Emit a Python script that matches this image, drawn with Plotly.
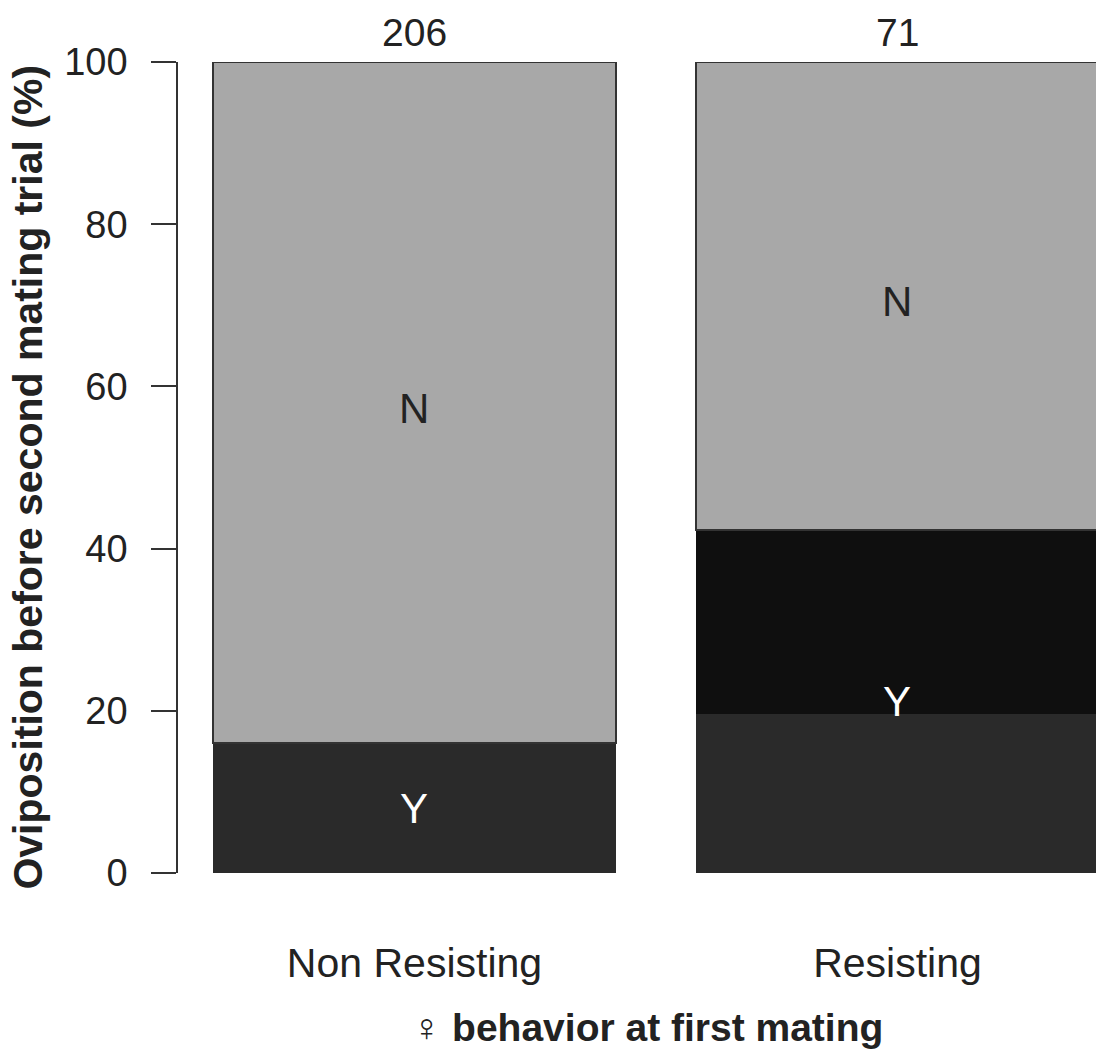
import plotly.graph_objects as go

categories = ["Non Resisting", "Resisting"]
totals = ["206", "71"]
y_lower = [16.0, 19.6]      # Y (oviposition) lower shade
y_upper = [0.0, 22.7]       # Y darker shade (Resisting)
n_vals = [84.0, 57.7]       # N
y_ticks = [0, 20, 40, 60, 80, 100]

FONT = "Liberation Sans, Arial, sans-serif"
TXT = "#222222"
xpos = [0, 1]

fig = go.Figure()
fig.add_trace(go.Bar(x=xpos, y=y_lower, name="Y", marker=dict(color="#2a2a2a", line=dict(width=0)),
                     width=0.834, hoverinfo="skip"))
fig.add_trace(go.Bar(x=xpos, y=y_upper, name="Y2", marker=dict(color="#0f0f0f", line=dict(width=0)),
                     width=0.834, hoverinfo="skip"))
fig.add_trace(go.Bar(x=xpos, y=n_vals, name="N", marker=dict(color="#a8a8a8", line=dict(width=1.5, color="#333333")),
                     width=0.834, hoverinfo="skip"))

ann = []
for i, x in enumerate(xpos):
    ytot = y_lower[i] + y_upper[i]
    ann.append(dict(x=x, y=ytot / 2, text="Y", showarrow=False, font=dict(family=FONT, size=42, color="white")))
    ann.append(dict(x=x, y=ytot + n_vals[i] / 2, text="N", showarrow=False, yshift=-6,
                    font=dict(family=FONT, size=42, color=TXT)))
    ann.append(dict(x=x, y=100, text=totals[i], showarrow=False, yshift=30, font=dict(family=FONT, size=39, color=TXT)))

ann.append(dict(xref="paper", yref="paper", x=-0.163, y=0.488, xanchor="center", yanchor="middle",
                textangle=-90,
                text="<b>Oviposition before second mating trial (%)</b>", showarrow=False,
                font=dict(family=FONT, size=41, color=TXT)))
ann.append(dict(xref="paper", yref="paper", x=0.511, y=-0.19, xanchor="center", yanchor="middle",
                text="<span style='font-weight:normal'>♀</span> <b>behavior at first mating</b>",
                showarrow=False, font=dict(family=FONT, size=39, color=TXT)))

fig.update_layout(
    barmode="stack",
    width=1096, height=1056,
    margin=dict(l=178, r=0, t=62, b=183),
    paper_bgcolor="white", plot_bgcolor="white",
    showlegend=False,
    annotations=ann,
    xaxis=dict(range=[-0.4896, 1.411], tickvals=xpos, ticktext=categories, showgrid=False,
               zeroline=False, showline=False, ticks="", ticklabelstandoff=62,
               tickfont=dict(family=FONT, size=41, color=TXT)),
    yaxis=dict(range=[0, 100], tickvals=y_ticks, showgrid=False, zeroline=False,
               showline=True, linecolor="#333333", linewidth=1.5,
               ticks="outside", ticklen=25, tickwidth=1.5, tickcolor="#333333",
               ticklabelstandoff=16, tickfont=dict(family=FONT, size=38, color=TXT)),
)

fig.write_html("out.html")
